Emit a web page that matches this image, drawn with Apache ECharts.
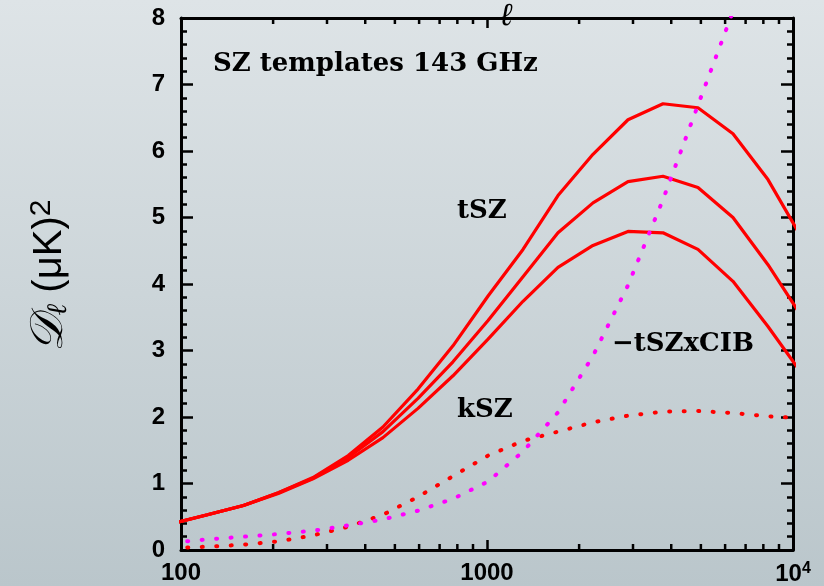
<!DOCTYPE html>
<html>
<head>
<meta charset="utf-8">
<script src="https://cdn.jsdelivr.net/npm/echarts@6/dist/echarts.min.js"></script>
<style>html,body{margin:0;padding:0;}#c{width:824px;height:586px;}</style>
</head>
<body>
<div id="c"></div>
<script>
// multipole nodes (ell)
const ell = [94,122,160,208,270,352,457,595,774,1008,1311,1706,2220,2889,3760,4891,6366,8284,10782];
// tSZ templates (three models)
const tszHigh = [0.40,0.53,0.67,0.86,1.09,1.42,1.85,2.42,3.07,3.82,4.52,5.33,5.95,6.47,6.71,6.65,6.26,5.57,4.66];
const tszMid  = [0.40,0.53,0.67,0.86,1.08,1.39,1.78,2.28,2.83,3.45,4.11,4.77,5.22,5.54,5.62,5.45,5.00,4.29,3.48];
const tszLow  = [0.40,0.53,0.67,0.85,1.07,1.35,1.69,2.13,2.62,3.17,3.74,4.25,4.58,4.79,4.77,4.52,4.04,3.36,2.63];
// kSZ template
const kszVals = [0.03,0.05,0.08,0.13,0.22,0.35,0.53,0.80,1.11,1.42,1.64,1.78,1.92,2.02,2.08,2.09,2.06,2.01,1.98];
// -tSZxCIB template
const cibVals = [0.11,0.16,0.20,0.24,0.29,0.37,0.46,0.59,0.77,1.03,1.48,2.07,2.92,3.98,5.27,6.69,8.10];
// axis ticks
const xMajorTicks = [100, 1000, 10000];
const xMinorTicks = [200,300,400,500,600,700,800,900,2000,3000,4000,5000,6000,7000,8000,9000];
const yMin = 0, yMax = 8, yStep = 1;

function pairs(xs, ys){ return ys.map((v,i)=>[xs[i], v]); }

const chart = echarts.init(document.getElementById('c'), null, {renderer:'canvas'});
const black = '#000';
const sansBold = 'Liberation Sans, Arial, sans-serif';
const tickFont = {fontSize:24, fontWeight:'bold', fontFamily:sansBold, color:black};

function xAxisCfg(pos, showLabel){
  return {
    type:'log', logBase:10, min:xMajorTicks[0], max:xMajorTicks[xMajorTicks.length-1], position:pos,
    axisLine:{show:true, onZero:false, lineStyle:{color:black, width:3}},
    axisTick:{show:true, inside:true, length:10, lineStyle:{color:black, width:2.5}},
    splitLine:{show:false},
    axisLabel:Object.assign({show:showLabel, margin:11, showMinLabel:true, showMaxLabel:true,
      formatter:function(v){ v=Math.round(v); return v>=10000 ? '{b|10}{s|4}' : String(v); },
      rich:{b:{fontSize:24,fontWeight:'bold',fontFamily:sansBold,color:black},
            s:{fontSize:16,fontWeight:'bold',fontFamily:sansBold,color:black,verticalAlign:'top',padding:[0,0,10,0]}}
    }, tickFont)
  };
}
function yAxisCfg(pos, showLabel){
  return {
    type:'value', min:yMin, max:yMax, interval:yStep, position:pos,
    axisLine:{show:true, onZero:false, lineStyle:{color:black, width:3}},
    axisTick:{show:true, inside:true, length:12, lineStyle:{color:black, width:2.5}},
    minorTick:{show:true, splitNumber:5, length:6, lineStyle:{color:black, width:2.5}},
    splitLine:{show:false}, minorSplitLine:{show:false},
    axisLabel:Object.assign({show:showLabel, margin:16}, tickFont)
  };
}

const solid = {color:'#ff0000', width:3.2};
const dotStyle = (c)=>({color:c, width:4, type:[1,13.5], cap:'round'});

const option = {
  animation:false,
  backgroundColor:{type:'linear', x:0, y:0, x2:0, y2:1,
    colorStops:[{offset:0,color:'#dee4e7'},{offset:1,color:'#bac6cb'}]},
  grid:{left:181, right:31, top:18, bottom:35, containLabel:false},
  xAxis:[xAxisCfg('bottom', true), xAxisCfg('top', false)],
  yAxis:[yAxisCfg('left', true), yAxisCfg('right', false)],
  series:[
    {type:'line', data:pairs(ell,tszHigh), showSymbol:false, lineStyle:solid, clip:true, z:3},
    {type:'line', data:pairs(ell,tszMid),  showSymbol:false, lineStyle:solid, clip:true, z:3},
    {type:'line', data:pairs(ell,tszLow),  showSymbol:false, lineStyle:solid, clip:true, z:3},
    {type:'line', data:pairs(ell,kszVals), showSymbol:false, lineStyle:dotStyle('#ff0000'), clip:true, z:3},
    {type:'line', data:pairs(ell,cibVals), showSymbol:false, lineStyle:dotStyle('#ff00ff'), clip:true, z:3},
    {type:'custom', silent:true, clip:false, z:4,
      data:xMinorTicks.map(v=>[v]),
      renderItem:function(params, api){
        const v = api.value(0);
        const b = api.coord([v, yMin]);
        const t = api.coord([v, yMax]);
        const st = {stroke:black, lineWidth:2.5};
        return {type:'group', children:[
          {type:'line', shape:{x1:b[0], y1:b[1], x2:b[0], y2:b[1]-6}, style:st},
          {type:'line', shape:{x1:t[0], y1:t[1], x2:t[0], y2:t[1]+6}, style:st}
        ]};
      }
    }
  ],
  graphic:[
    {type:'text', x:213, y:64, style:{text:'SZ templates 143 GHz', font:'bold 26px "DejaVu Serif", serif', fill:black, textVerticalAlign:'middle'}},
    {type:'text', x:457, y:211, style:{text:'tSZ', font:'bold 26px "DejaVu Serif", serif', fill:black, textVerticalAlign:'middle'}},
    {type:'text', x:457, y:410, style:{text:'kSZ', font:'bold 26px "DejaVu Serif", serif', fill:black, textVerticalAlign:'middle'}},
    {type:'text', x:612, y:344, style:{text:'\u2212tSZxCIB', font:'bold 26px "DejaVu Serif", serif', fill:black, textVerticalAlign:'middle'}},
    {type:'text', x:506, y:33, style:{text:'\u2113', font:'italic 32px "DejaVu Serif", serif', fill:black, textAlign:'center', textVerticalAlign:'bottom'}},
    {type:'text', x:50, y:276, rotation:Math.PI/2,
      style:{text:'{d|\uD835\uDC9F}{l|\u2113}{n| (\u03BCK)}{s|2}', textAlign:'center', textVerticalAlign:'middle', fill:black,
        rich:{
          d:{fontSize:46, fontFamily:'"DejaVu Serif", serif', fontStyle:'italic', fill:black, verticalAlign:'middle'},
          l:{fontSize:28, fontFamily:'"DejaVu Serif", serif', fontStyle:'italic', fill:black, verticalAlign:'bottom'},
          n:{fontSize:40, fontFamily:'"Liberation Sans", Arial, sans-serif', fill:black, verticalAlign:'middle'},
          s:{fontSize:30, fontFamily:'"Liberation Sans", Arial, sans-serif', fill:black, verticalAlign:'top'}
        }}}
  ]
};
chart.setOption(option);
</script>
</body>
</html>
